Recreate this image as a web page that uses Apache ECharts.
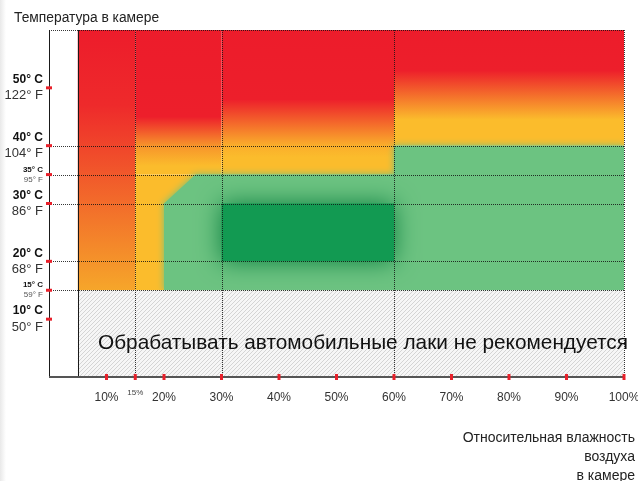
<!DOCTYPE html>
<html><head><meta charset="utf-8">
<script src="https://cdn.jsdelivr.net/npm/echarts@6/dist/echarts.min.js"></script>
<style>html,body{margin:0;padding:0;background:#fff}#c{width:638px;height:481px}</style>
</head><body><div id="c"></div>
<script>
// ---- data ----
const humidityTicks = [10, 15, 20, 30, 40, 50, 60, 70, 80, 90, 100];
const minorHumidity = [15];
const tempTicksC = [10, 15, 20, 30, 35, 40, 50];
const tempTicksF = [50, 59, 68, 86, 95, 104, 122];
const minorTemps = [15, 35];
// zones: [humidity from, humidity to, temp from, temp to]
const warmZones = [[5, 15, 15, 60], [15, 30, 35, 60], [30, 60, 35, 60], [60, 100, 40, 60]];
// gradient stops per warm zone: [temperature, colour]
const warmStops = [
  [[60, '#ed1c2b'], [47, '#ee2a2b'], [15, '#f6a62a']],
  [[60, '#ed1c2b'], [45, '#ed1f2b'], [40, '#f7942b'], [36.5, '#fbbc2c'], [35, '#fbbc2c']],
  [[60, '#ed1c2b'], [48, '#ed1f2b'], [40, '#faae2b'], [38, '#fbbc2c'], [35, '#fbbc2c']],
  [[60, '#ed1c2b'], [53, '#ed1f2b'], [44.5, '#fbbc2c'], [40, '#fbbc2c']]
];
const yellowZone = [15, 60, 15, 35];
const comfortZone = [[20, 15], [20, 30], [25.5, 35], [60, 35], [60, 40], [100, 40], [100, 15]];
const optimalZone = [30, 60, 20, 30];
const notRecommendedZone = [5, 100, 0, 15];
const gridTemps = [15, 20, 30, 35, 40, 60];
const gridHumidity = [15, 30, 60, 100];
const frameHumidity = [0, 5];
const titleText = 'Температура в камере';
const axisNameText = 'Относительная влажность\nвоздуха\nв камере';
const noteText = 'Обрабатывать автомобильные лаки не рекомендуется';

const FONT = '"Liberation Sans", Arial, sans-serif';

function hatchCanvas() {
  const c = document.createElement('canvas'); c.width = 4; c.height = 4;
  const g = c.getContext('2d');
  g.fillStyle = '#f6f6f6'; g.fillRect(0, 0, 4, 4);
  g.strokeStyle = '#d4d4d4'; g.lineWidth = 1;
  g.beginPath();
  g.moveTo(0, 4); g.lineTo(4, 0);
  g.moveTo(-1, 1); g.lineTo(1, -1);
  g.moveTo(3, 5); g.lineTo(5, 3);
  g.stroke();
  return c;
}
const hatch = hatchCanvas();

function rectOf(api, z) {
  const p0 = api.coord([z[0], z[3]]);
  const p1 = api.coord([z[1], z[2]]);
  return { x: p0[0], y: p0[1], width: p1[0] - p0[0], height: p1[1] - p0[1] };
}

const gridItems = gridTemps.map(t => ['h', t]).concat(gridHumidity.map(h => ['v', h]));

const chart = echarts.init(document.getElementById('c'), null, { renderer: 'canvas' });

const option = {
  animation: false,
  backgroundColor: '#fff',
  title: {
    text: titleText, left: 9, top: 6,
    textStyle: { fontSize: 13.8, fontWeight: 'normal', color: '#222', fontFamily: FONT }
  },
  grid: { left: 49, right: 14, top: 30, bottom: 104, outerBoundsMode: 'none', containLabel: false },
  xAxis: {
    type: 'value', min: 0, max: 100, interval: 5,
    axisLine: { show: false }, axisTick: { show: false }, splitLine: { show: false },
    axisLabel: {
      margin: 15, color: '#333', fontSize: 12, fontFamily: FONT, hideOverlap: false,
      formatter: v => humidityTicks.includes(v) ? (minorHumidity.includes(v) ? '{s|' + v + '%}' : v + '%') : '',
      rich: { s: { fontSize: 8, color: '#444', fontFamily: FONT, padding: [-3, 0, 0, 0] } }
    }
  },
  yAxis: {
    type: 'value', min: 0, max: 60, interval: 5,
    axisLine: { show: false }, axisTick: { show: false }, splitLine: { show: false },
    axisLabel: {
      margin: 6, fontFamily: FONT, hideOverlap: false,
      formatter: v => {
        const i = tempTicksC.indexOf(v);
        if (i < 0) return '';
        if (minorTemps.includes(v)) return '{cs|' + v + '° C}\n{fs|' + tempTicksF[i] + '° F}';
        return '{c|' + v + '° C}\n{f|' + tempTicksF[i] + '° F}';
      },
      rich: {
        c: { fontWeight: 'bold', fontSize: 12, color: '#111', lineHeight: 16, fontFamily: FONT, align: 'right' },
        f: { fontSize: 13, color: '#333', lineHeight: 16, fontFamily: FONT, align: 'right' },
        cs: { fontWeight: 'bold', fontSize: 8, color: '#111', lineHeight: 10, fontFamily: FONT, align: 'right' },
        fs: { fontSize: 8, color: '#555', lineHeight: 10, fontFamily: FONT, align: 'right' }
      }
    }
  },
  graphic: [
    { type: 'rect', left: 0, top: 0, z: 0, shape: { width: 6, height: 481 },
      style: { fill: new echarts.graphic.LinearGradient(0, 0, 1, 0, [{ offset: 0, color: '#e9e9e9' }, { offset: 1, color: '#ffffff' }]) } },
    { type: 'text', z: 100, style: { text: noteText, x: 363, y: 343, textAlign: 'center', textVerticalAlign: 'middle', font: '20.8px ' + FONT, fill: '#111' } },
    { type: 'text', z: 100, style: { text: axisNameText, x: 635, y: 429, textAlign: 'right', textVerticalAlign: 'top', font: '14px ' + FONT, fill: '#222', lineHeight: 19 } }
  ],
  series: [
    { // warm gradient zones
      type: 'custom', z: 1, clip: true, data: warmZones.map((z, i) => i),
      renderItem: (params, api) => {
        const z = warmZones[params.dataIndex];
        const stops = warmStops[params.dataIndex];
        const top = z[3], bot = z[2];
        return {
          type: 'rect', shape: rectOf(api, z),
          style: { fill: new echarts.graphic.LinearGradient(0, 0, 0, 1,
            stops.map(s => ({ offset: (top - s[0]) / (top - bot), color: s[1] }))) }
        };
      }
    },
    { // yellow
      type: 'custom', z: 2, clip: true, data: [0],
      renderItem: (params, api) => ({ type: 'rect', shape: rectOf(api, yellowZone), style: { fill: '#fbbc2c' } })
    },
    { // comfort (light green)
      type: 'custom', z: 3, clip: true, data: [0],
      renderItem: (params, api) => ({
        type: 'polygon', shape: { points: comfortZone.map(p => api.coord(p)) },
        style: { fill: '#6cc381', shadowBlur: 7, shadowColor: '#6cc381' }
      })
    },
    { // optimal (dark green)
      type: 'custom', z: 4, clip: true, data: [0],
      renderItem: (params, api) => ({
        type: 'rect', shape: rectOf(api, optimalZone),
        style: { fill: '#129a52', shadowBlur: 24, shadowColor: '#0a8040' }
      })
    },
    { // not recommended (hatched)
      type: 'custom', z: 5, clip: true, data: [0],
      renderItem: (params, api) => ({
        type: 'rect', shape: rectOf(api, notRecommendedZone),
        style: { fill: { image: hatch, repeat: 'repeat' } }
      })
    },
    { // dotted grid lines
      type: 'custom', z: 6, clip: false,
      data: gridItems.map((d, i) => i),
      renderItem: (params, api) => {
        const d = gridItems[params.dataIndex];
        let a, b;
        if (d[0] === 'h') { a = api.coord([0, d[1]]); b = api.coord([100, d[1]]); }
        else { a = api.coord([d[1], 0]); b = api.coord([d[1], 60]); }
        const ox = d[0] === 'v' ? 0.5 : 0, oy = d[0] === 'h' ? 0.5 : 0;
        return {
          type: 'line',
          shape: { x1: Math.round(a[0]) + ox, y1: Math.round(a[1]) + oy, x2: Math.round(b[0]) + ox, y2: Math.round(b[1]) + oy },
          style: { stroke: 'rgba(20,20,20,0.85)', lineWidth: 1, lineDash: [1, 1] }
        };
      }
    },
    { // solid frame lines
      type: 'custom', z: 7, clip: false, data: frameHumidity.map((h, i) => i).concat([2]),
      renderItem: (params, api) => {
        let a, b;
        if (params.dataIndex < frameHumidity.length) {
          const h = frameHumidity[params.dataIndex];
          a = api.coord([h, 0]); b = api.coord([h, 60]);
          return { type: 'line', shape: { x1: Math.round(a[0]) + 0.5, y1: a[1], x2: Math.round(b[0]) + 0.5, y2: b[1] },
            style: { stroke: '#1a1a1a', lineWidth: 1 } };
        }
        a = api.coord([0, 0]); b = api.coord([100, 0]);
        return { type: 'line', shape: { x1: a[0], y1: Math.round(a[1]), x2: b[0], y2: Math.round(b[1]) },
          style: { stroke: '#555', lineWidth: 2 } };
      }
    },
    { // y ticks
      type: 'scatter', z: 8, clip: false, symbol: 'rect', symbolSize: [6, 3],
      itemStyle: { color: '#e8202a', opacity: 1 }, silent: true,
      data: tempTicksC.map(t => [0, t])
    },
    { // x ticks
      type: 'scatter', z: 8, clip: false, symbol: 'rect', symbolSize: [3, 6],
      itemStyle: { color: '#e8202a', opacity: 1 }, silent: true,
      data: humidityTicks.map(h => [h, 0])
    }
  ]
};
chart.setOption(option);
</script>
</body></html>
